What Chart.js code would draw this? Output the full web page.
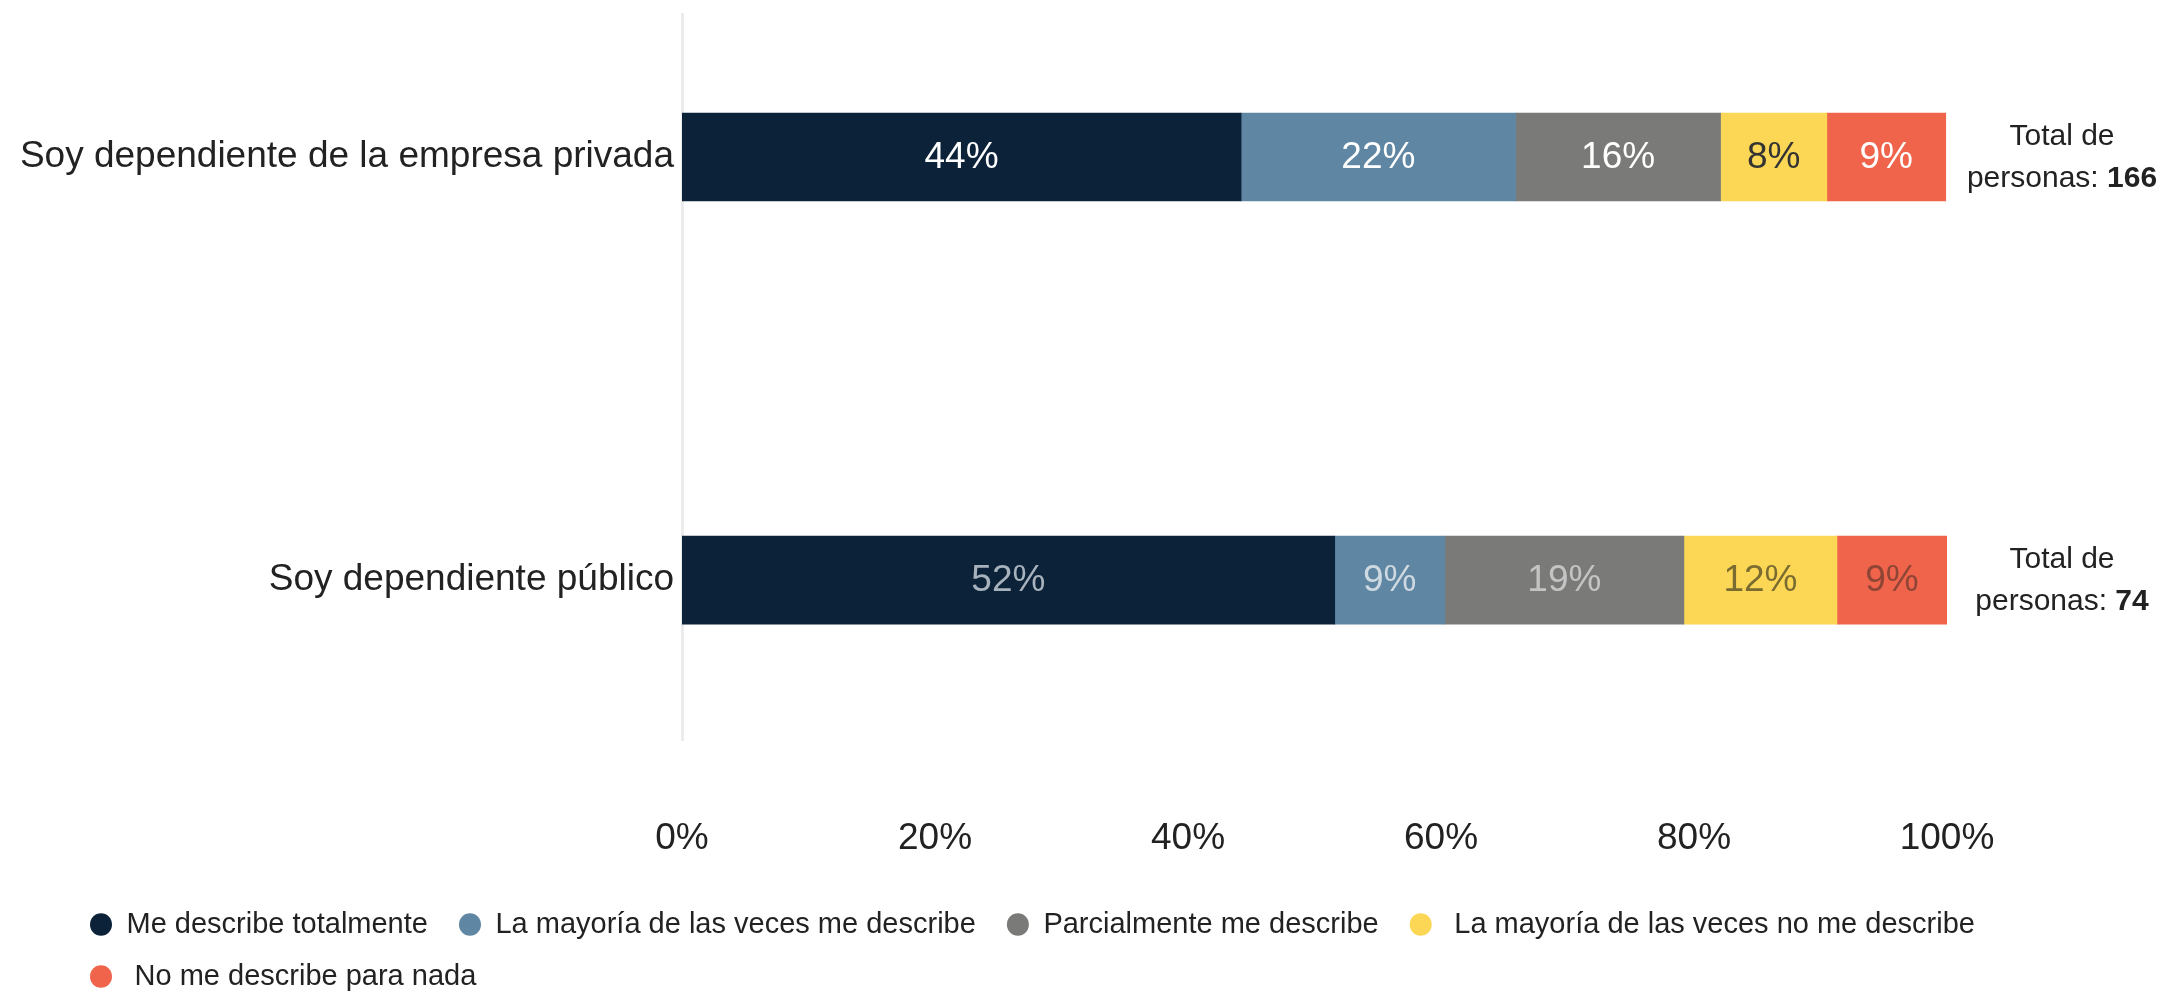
<!DOCTYPE html>
<html>
<head>
<meta charset="utf-8">
<script src="https://cdn.jsdelivr.net/npm/chart.js@4/dist/chart.umd.min.js"></script>
<style>
  html, body { margin: 0; padding: 0; background: #fff; }
  #wrap { width: 2169px; height: 993px; position: relative; }
</style>
</head>
<body>
<div id="wrap"><canvas id="chart"></canvas></div>
<script>
const FONT = '"Liberation Sans", Arial, Helvetica, sans-serif';

// rows of the chart
const categories = ['Soy dependiente de la empresa privada', 'Soy dependiente público'];
const totals = [166, 74];

// answer options (legend)
const seriesNames = [
  'Me describe totalmente ',
  'La mayoría de las veces me describe ',
  'Parcialmente me describe ',
  ' La mayoría de las veces no me describe',
  ' No me describe para nada'
];
const seriesColors = ['#0b2239', '#5f86a2', '#7a7a78', '#fcd655', '#ef644a'];

// percentages per row
const describeTotal = [44.2, 51.6];
const mostlyDescribes = [21.7, 8.7];
const partlyDescribes = [16.2, 18.9];
const mostlyNot = [8.4, 12.1];
const notAtAll = [9.4, 8.7];

const xTicks = [0, 20, 40, 60, 80, 100];

// colour of the % text inside each bar, per series [row 1, row 2]
const labelColors = [
  ['#ffffff', '#a7b2bd'],
  ['#ffffff', '#cfd9e2'],
  ['#ffffff', '#c4c4c4'],
  ['#333333', '#7a6b30'],
  ['#ffffff', '#8e4536']
];

const seriesValues = [describeTotal, mostlyDescribes, partlyDescribes, mostlyNot, notAtAll];

const datasets = seriesValues.map((vals, s) => ({
  label: seriesNames[s],
  data: vals.map((v, i) => ({ x: v, y: i })),
  backgroundColor: seriesColors[s],
  borderWidth: 0,
  barThickness: 88
}));

// percent text centred inside each segment
const barLabels = {
  id: 'barLabels',
  afterDatasetsDraw(chart) {
    const ctx = chart.ctx;
    ctx.save();
    ctx.font = '37px ' + FONT;
    ctx.textAlign = 'center';
    ctx.textBaseline = 'middle';
    chart.data.datasets.forEach((ds, s) => {
      chart.getDatasetMeta(s).data.forEach((bar, i) => {
        ctx.fillStyle = labelColors[s][i];
        ctx.fillText(Math.round(ds.data[i].x) + '%', (bar.x + bar.base) / 2, bar.y + 1);
      });
    });
    ctx.restore();
  }
};

// "Total de personas: N" to the right of each bar
const totalLabels = {
  id: 'totalLabels',
  afterDraw(chart) {
    const ctx = chart.ctx;
    const yScale = chart.scales.y;
    const cx = chart.chartArea.right + 115;
    ctx.save();
    ctx.fillStyle = '#222';
    ctx.textBaseline = 'alphabetic';
    totals.forEach((t, i) => {
      const cy = yScale.getPixelForValue(i);
      ctx.font = '30px ' + FONT;
      ctx.textAlign = 'center';
      ctx.fillText('Total de', cx, cy - 12);
      const first = 'personas: ';
      const wFirst = ctx.measureText(first).width;
      ctx.font = 'bold 30px ' + FONT;
      const wNum = ctx.measureText(String(t)).width;
      const start = cx - (wFirst + wNum) / 2;
      ctx.textAlign = 'left';
      ctx.font = '30px ' + FONT;
      ctx.fillText(first, start, cy + 30);
      ctx.font = 'bold 30px ' + FONT;
      ctx.fillText(String(t), start + wFirst, cy + 30);
    });
    ctx.restore();
  }
};

// legend is indented while the long row label reaches the left edge
const legendIndent = {
  id: 'legendIndent',
  afterLayout(chart) {
    chart.legend.left = 67;
  }
};

Chart.defaults.font.family = FONT;
Chart.defaults.color = '#222';

new Chart(document.getElementById('chart'), {
  type: 'bar',
  data: { datasets },
  plugins: [barLabels, totalLabels, legendIndent],
  options: {
    indexAxis: 'y',
    responsive: true,
    maintainAspectRatio: false,
    animation: false,
    layout: { padding: { left: 0, right: 0, top: 14, bottom: -8 } },
    scales: {
      x: {
        type: 'linear',
        stacked: true,
        min: 0,
        max: 100,
        afterBuildTicks: (scale) => { scale.ticks = xTicks.map(v => ({ value: v })); },
        afterFit: (scale) => { scale.height = 147; },
        ticks: {
          padding: 77,
          color: '#222',
          font: { size: 37 },
          callback: (v) => v + '%'
        },
        grid: { display: false, drawTicks: false },
        border: { display: false }
      },
      y: {
        type: 'linear',
        stacked: true,
        reverse: true,
        offset: false,
        min: -0.338,
        max: 1.378,
        afterBuildTicks: (scale) => { scale.ticks = categories.map((c, i) => ({ value: i })); },
        afterFit: (scale) => { scale.width = 682; scale.paddingTop = 0; scale.paddingBottom = 0; },
        ticks: {
          padding: 8,
          color: '#222',
          font: { size: 37 },
          callback: (v) => categories[v]
        },
        grid: { display: false, drawTicks: false },
        border: { display: true, color: '#ececec', width: 3 }
      },
      // empty right-hand strip that holds the "Total de personas" notes
      side: {
        type: 'linear',
        position: 'right',
        afterFit: (scale) => { scale.width = 222; scale.paddingTop = 0; scale.paddingBottom = 0; },
        ticks: { display: false },
        grid: { display: false, drawTicks: false },
        border: { display: false }
      }
    },
    plugins: {
      tooltip: { enabled: false },
      legend: {
        position: 'bottom',
        align: 'start',
        labels: {
          usePointStyle: true,
          pointStyle: 'circle',
          boxWidth: 16,
          boxHeight: 16,
          pointStyleWidth: 22,
          padding: 23,
          color: '#222',
          font: { size: 29 }
        }
      }
    }
  }
});
</script>
</body>
</html>
